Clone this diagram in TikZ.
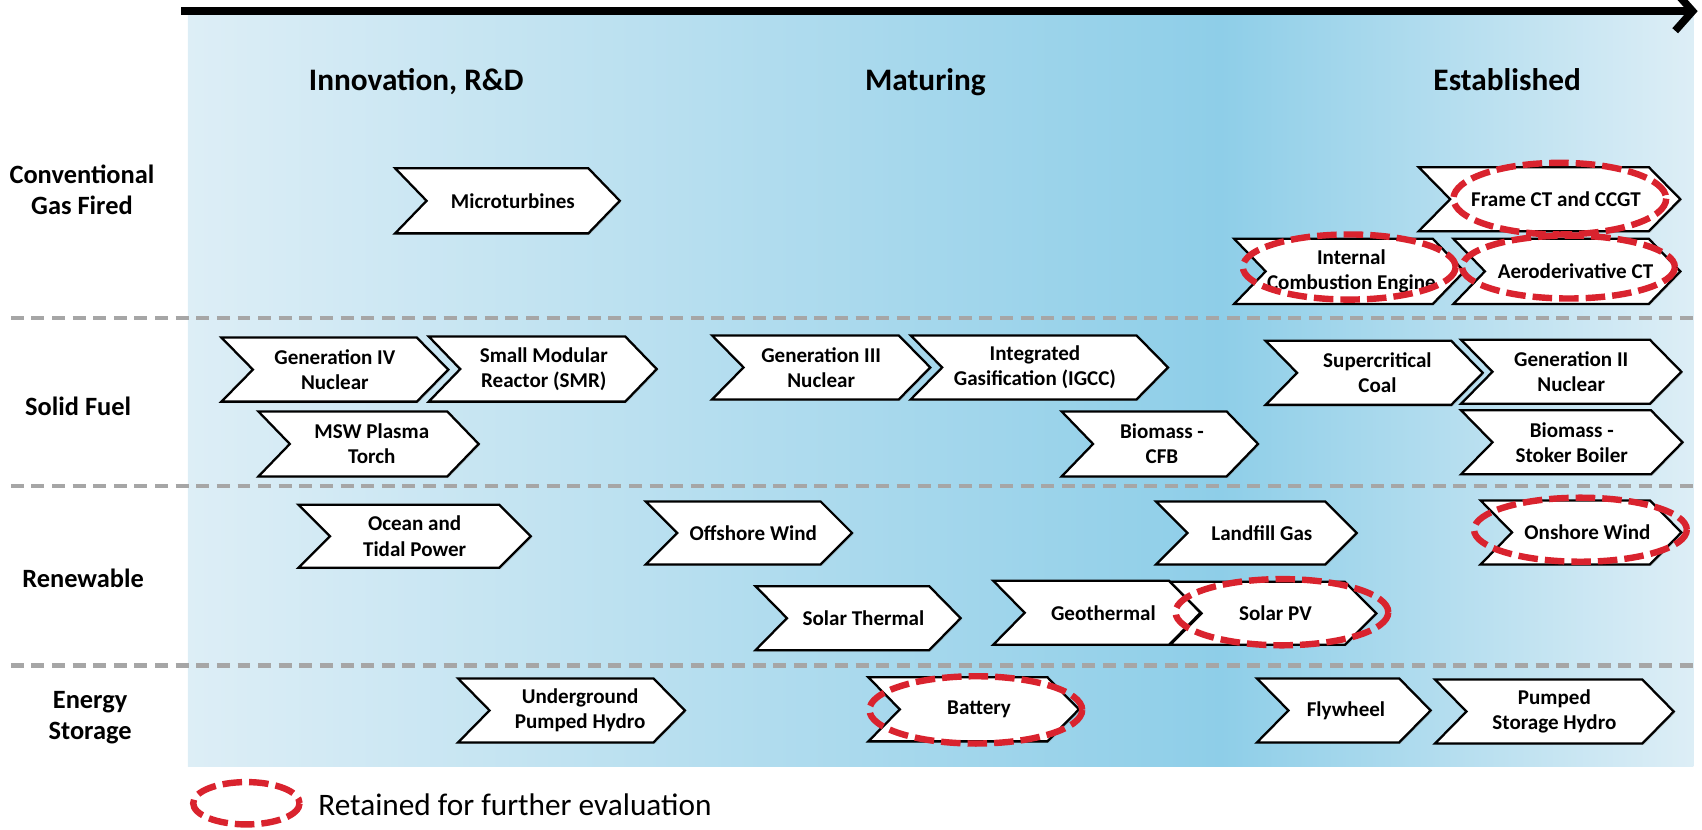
\documentclass[tikz,border=0pt]{standalone}
\usepackage{fontspec}
\setmainfont{Carlito}
\usetikzlibrary{arrows.meta,shadows}
\definecolor{bgl}{RGB}{221,238,246}
\definecolor{bgd}{RGB}{142,206,232}
\definecolor{redd}{RGB}{217,35,46}
\definecolor{dgray}{RGB}{166,166,166}
\tikzset{
  chevshape/.style={draw=black, fill=white, line width=1.5pt, line join=miter,
    drop shadow={shadow xshift=0.9pt, shadow yshift=-0.9pt, opacity=0.3}},
  chevtext/.style={font=\bfseries\fontsize{13.8}{16.5}\selectfont, align=center, inner sep=0pt},
  heading/.style={font=\bfseries\fontsize{20.5}{24}\selectfont, inner sep=0pt, anchor=base},
  rowlabel/.style={font=\bfseries\fontsize{17.3}{20.5}\selectfont, align=center, inner sep=0pt},
  retained/.style={draw=redd, line width=4.2pt, dash pattern=on 12.8pt off 4.6pt},
  rowsep/.style={draw=dgray, line width=2.8pt, dash pattern=on 8.5pt off 5pt},
  legendtext/.style={font=\fontsize{20.5}{24}\selectfont, inner sep=0pt, anchor=base west},
}
% #1 text x-offset, #2 name, #3 x1, #4 x2, #5 y1, #6 y2, #7 text
\newcommand\chev[7][2]{%
  \path[chevshape] (#3,#5) -- ({#4-29},#5) -- (#4,{(#5+#6)/2}) -- ({#4-29},#6) -- (#3,#6) -- ({#3+29},{(#5+#6)/2}) -- cycle;
  \node[chevtext] (#2) at ({(#3+#4)/2+#1},{(#5+#6)/2}) {#7};
}
\begin{document}
\begin{tikzpicture}[x=0.025cm, y=-0.025cm]
\useasboundingbox (0,0) rectangle (1568,764);
% background
\fill[left color=bgl, right color=bgd] (173,14) rectangle (1125,706);
\fill[left color=bgd, right color=bgl] (1124,14) rectangle (1560,706);
% time arrow
\coordinate (arrS) at (167,10.3);
\coordinate (arrE) at (1564,10.3);
\draw[line width=5pt, -{Straight Barb[length=4mm,width=9mm]}] (arrS) -- (arrE);
% row separators
\coordinate (s1a) at (10,293); \coordinate (s1b) at (1560,293);
\coordinate (s2a) at (10,448); \coordinate (s2b) at (1560,448);
\coordinate (s3a) at (10,613); \coordinate (s3b) at (1560,613);
\draw[rowsep] (s1a) -- (s1b);
\draw[rowsep] (s2a) -- (s2b);
\draw[rowsep] (s3a) -- (s3b);
% headings
\node[heading] (h1) at (383.5,83) {Innovation, R\&D};
\node[heading] (h2) at (852.5,83) {Maturing};
\node[heading] (h3) at (1388.5,83) {Established};
% row labels
\node[rowlabel] (r1) at (75.5,175) {Conventional\\Gas Fired};
\node[rowlabel] (r2) at (72,374) {Solid Fuel};
\node[rowlabel] (r3) at (76.5,533) {Renewable};
\node[rowlabel] (r4) at (83,661) {Energy\\Storage};
% chevrons: conventional gas fired
\chev[5]{micro}{364}{571}{155}{215}{Microturbines}
\chev[6]{frame}{1307}{1548}{154}{213}{Frame CT and CCGT}
\chev{ice}{1137}{1349}{220}{280}{Internal\\Combustion Engine}
\chev[8]{aero}{1339}{1548}{220}{280}{Aeroderivative CT}
% solid fuel
\chev[0]{gen4}{204}{413}{311}{370}{Generation IV\\Nuclear}
\chev[1]{smr}{395}{605}{310}{370}{Small Modular\\Reactor (SMR)}
\chev[3]{msw}{238}{441}{379}{439}{MSW Plasma\\Torch}
\chev[0]{gen3}{656}{857}{309}{368}{Generation III\\Nuclear}
\chev[-4]{igcc}{839}{1076}{309}{368}{Integrated\\Gasification (IGCC)}
\chev{cfb}{978}{1159}{379}{439}{Biomass -\\CFB}
\chev[3]{scc}{1166}{1366}{314}{373}{Supercritical\\Coal}
\chev[0]{gen2}{1346}{1549}{313}{372}{Generation II\\Nuclear}
\chev[0]{stoker}{1346}{1550}{378}{437}{Biomass -\\Stoker Boiler}
% renewable
\chev[0]{ocean}{275}{489}{465}{523}{Ocean and\\Tidal Power}
\chev[4]{offshore}{595}{785}{462}{520}{Offshore Wind}
\chev[5]{landfill}{1065}{1250}{462}{520}{Landfill Gas}
\chev[6]{onshore}{1364}{1549}{461}{520}{Onshore Wind}
\chev[5]{solth}{696}{885}{540}{599}{Solar Thermal}
\chev[6]{geo}{915}{1106}{535}{594}{Geothermal}
\chev{solpv}{1078}{1268}{536}{594}{Solar PV}
% energy storage
\chev[8]{ugph}{422}{631}{625}{684}{Underground\\Pumped Hydro}
\chev[5]{battery}{800}{994}{624}{683}{Battery}
\chev[2]{fly}{1158}{1318}{625}{684}{Flywheel}
\chev[0]{psh}{1322}{1542}{626}{685}{Pumped\\Storage Hydro}
% retained ellipses
\draw[retained] (1437,183) ellipse [x radius=98, y radius=33];
\draw[retained] (1243,246) ellipse [x radius=98, y radius=30];
\draw[retained] (1445,246) ellipse [x radius=98, y radius=29];
\draw[retained] (1456,488) ellipse [x radius=98, y radius=29.5];
\draw[retained] (1181,564) ellipse [x radius=98, y radius=30.5];
\draw[retained] (899,654) ellipse [x radius=98, y radius=31];
% legend
\draw[retained] (227,740) ellipse [x radius=49, y radius=19.5];
\node[legendtext] (leg) at (293,751) {Retained for further evaluation};
\end{tikzpicture}
\end{document}
